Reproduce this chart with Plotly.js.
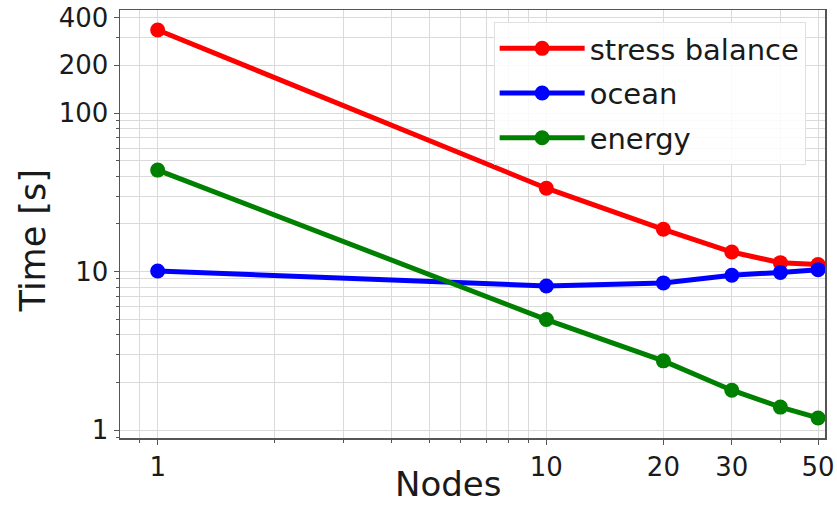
<!DOCTYPE html>
<html>
<head>
<meta charset="utf-8">
<script src="https://cdn.plot.ly/plotly-3.0.1.min.js"></script>
<style>html,body{margin:0;padding:0;background:#fff;}#chart{width:837px;height:506px;}</style>
</head>
<body>
<div id="chart"></div>
<script>
const nodes = [1, 10, 20, 30, 40, 50];
const stressBalance = [334, 33.6, 18.5, 13.3, 11.4, 11.1];
const ocean = [10.1, 8.13, 8.5, 9.5, 9.9, 10.3];
const energy = [43.7, 4.99, 2.74, 1.79, 1.40, 1.196];
const seriesNames = ["stress balance", "ocean", "energy"];
const seriesColors = ["#ff0000", "#0000ff", "#008000"];
const xTickVals = [1, 10, 20, 30, 50];
const xTickText = ["1", "10", "20", "30", "50"];
const xMinorVals = [0.9, 2, 3, 4, 5, 6, 7, 8, 9, 40];
const yTickVals = [1, 10, 100, 200, 400];
const yTickText = ["1", "10", "100", "200", "400"];
const yMinorVals = [0.9, 2, 3, 4, 5, 6, 7, 8, 9, 20, 30, 40, 50, 60, 70, 80, 90, 300];
const xTitle = "Nodes";
const yTitle = "Time [s]";

const ys = [stressBalance, ocean, energy];
const traces = ys.map((y, i) => ({
  x: nodes, y: y, name: seriesNames[i], legendgroup: 'g' + i,
  type: 'scatter', mode: 'lines+markers',
  line: {color: seriesColors[i], width: 5},
  marker: {color: seriesColors[i], size: 15}
}));

const gridc = '#dadada';
const layout = {
  width: 837, height: 506,
  margin: {l: 120, r: 12, t: 10, b: 68},
  paper_bgcolor: '#fff', plot_bgcolor: '#fff',
  font: {family: 'DejaVu Sans', color: '#1a1a1a'},
  showlegend: true,
  legend: {
    x: 0.530, y: 0.972, xanchor: 'left', yanchor: 'top',
    bgcolor: 'rgba(255,255,255,0.85)', bordercolor: '#e0e0e0', borderwidth: 1,
    font: {size: 29, family: 'DejaVu Sans', color: '#1a1a1a'},
    itemwidth: 85, tracegroupgap: 4
  },
  xaxis: {
    type: 'log', range: [Math.log10(0.80), Math.log10(52.1)],
    tickmode: 'array', tickvals: xTickVals, ticktext: xTickText,
    tickfont: {size: 26}, ticks: 'outside', ticklen: 5, tickcolor: '#555',
    showgrid: true, gridcolor: gridc, gridwidth: 1,
    minor: {tickmode: 'array', tickvals: xMinorVals, showgrid: true, gridcolor: gridc, ticks: 'outside', ticklen: 3, tickcolor: '#555'},
    showline: true, linecolor: '#555', linewidth: 1.5, mirror: true, zeroline: false
  },
  yaxis: {
    type: 'log', range: [Math.log10(0.894), Math.log10(446.7)],
    tickmode: 'array', tickvals: yTickVals, ticktext: yTickText,
    tickfont: {size: 26}, ticks: 'outside', ticklen: 5, tickcolor: '#555',
    showgrid: true, gridcolor: gridc, gridwidth: 1,
    minor: {tickmode: 'array', tickvals: yMinorVals, showgrid: true, gridcolor: gridc, ticks: 'outside', ticklen: 3, tickcolor: '#555'},
    showline: true, linecolor: '#555', linewidth: 1.5, mirror: true, zeroline: false
  },
  annotations: [
    {text: xTitle, xref: 'paper', yref: 'paper', x: 0.465, y: -0.159, xanchor: 'center', yanchor: 'bottom',
     showarrow: false, font: {size: 34, family: 'DejaVu Sans', color: '#1a1a1a'}},
    {text: yTitle, xref: 'paper', yref: 'paper', x: -0.123, y: 0.46, xanchor: 'center', yanchor: 'middle',
     textangle: -90, showarrow: false, font: {size: 35, family: 'DejaVu Sans', color: '#1a1a1a'}}
  ]
};
Plotly.newPlot('chart', traces, layout, {displayModeBar: false, staticPlot: true});
</script>
</body>
</html>
